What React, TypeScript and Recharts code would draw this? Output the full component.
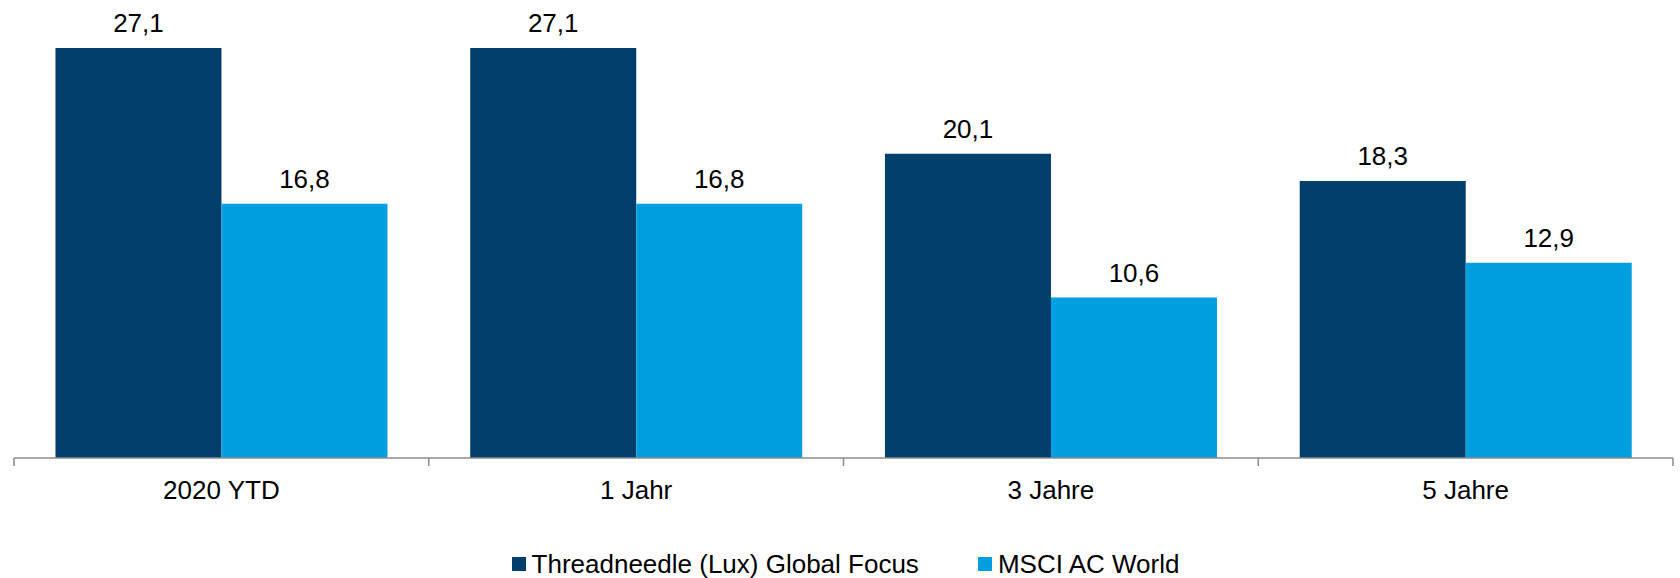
import React from 'react'
import { BarChart, Bar, XAxis, YAxis, LabelList, Legend } from 'recharts'

const categories = ['2020 YTD', '1 Jahr', '3 Jahre', '5 Jahre']
const fundValues = [27.1, 27.1, 20.1, 18.3]
const indexValues = [16.8, 16.8, 10.6, 12.9]
const seriesNames = ['Threadneedle (Lux) Global Focus', 'MSCI AC World']

const WIDTH = 1680
const HEIGHT = 578
const MARGIN = { top: 4, right: 7, left: 14, bottom: 0 }
const FONT = "'Liberation Sans', Arial, sans-serif"
const DARK = '#003E6B'
const LIGHT = '#00A0E0'
const AXIS_GREY = '#8C8C8C'

const data = categories.map((name, i) => ({
  name,
  fund: fundValues[i],
  index: indexValues[i],
}))

// band width of one category, used to put tick marks on category edges
const band = (WIDTH - MARGIN.left - MARGIN.right) / categories.length

const CategoryTick = (props: any) => {
  const { x, y, payload, index } = props
  const left = x - band / 2
  const right = x + band / 2
  return (
    <g>
      <line x1={left} y1={y} x2={left} y2={y + 8} stroke={AXIS_GREY} strokeWidth={1.5} />
      {index === categories.length - 1 && (
        <line x1={right} y1={y} x2={right} y2={y + 8} stroke={AXIS_GREY} strokeWidth={1.5} />
      )}
      <text x={x} y={y + 41} textAnchor="middle" fontSize={26} fontFamily={FONT} fill="#000">
        {payload.value}
      </text>
    </g>
  )
}

const renderLegend = () => (
  <div
    style={{
      display: 'flex',
      justifyContent: 'center',
      alignItems: 'center',
      fontFamily: FONT,
      fontSize: 26,
      color: '#000',
      height: 40,
      paddingTop: 12,
      paddingLeft: 4,
      boxSizing: 'border-box',
    }}
  >
    {seriesNames.map((n, i) => (
      <div key={n} style={{ display: 'flex', alignItems: 'center', marginLeft: i === 0 ? 0 : 59 }}>
        <span
          style={{
            display: 'inline-block',
            width: 14,
            height: 14,
            background: i === 0 ? DARK : LIGHT,
            marginRight: 6,
          }}
        />
        <span>{n}</span>
      </div>
    ))}
  </div>
)

export default function App() {
  return (
    <div style={{ position: 'absolute', left: 0, top: 0, width: WIDTH, height: HEIGHT, background: '#fff' }}>
      <BarChart
        width={WIDTH}
        height={HEIGHT}
        data={data}
        margin={MARGIN}
        barCategoryGap="10%"
        barGap={0}
      >
        <XAxis
          dataKey="name"
          height={80}
          tickLine={false}
          tickSize={0}
          tickMargin={0}
          axisLine={{ stroke: AXIS_GREY, strokeWidth: 1.5 }}
          tick={<CategoryTick />}
          interval={0}
        />
        <YAxis hide domain={[0, 30]} />
        <Legend verticalAlign="bottom" height={40} content={renderLegend} />
        <Bar dataKey="fund" name={seriesNames[0]} fill={DARK} isAnimationActive={false}>
          <LabelList
            dataKey="fund"
            position="top"
            offset={16}
            formatter={(v: any) => String(v).replace('.', ',')}
            style={{ fontSize: 26, fontFamily: FONT, fill: '#000' }}
          />
        </Bar>
        <Bar dataKey="index" name={seriesNames[1]} fill={LIGHT} isAnimationActive={false}>
          <LabelList
            dataKey="index"
            position="top"
            offset={16}
            formatter={(v: any) => String(v).replace('.', ',')}
            style={{ fontSize: 26, fontFamily: FONT, fill: '#000' }}
          />
        </Bar>
      </BarChart>
    </div>
  )
}
